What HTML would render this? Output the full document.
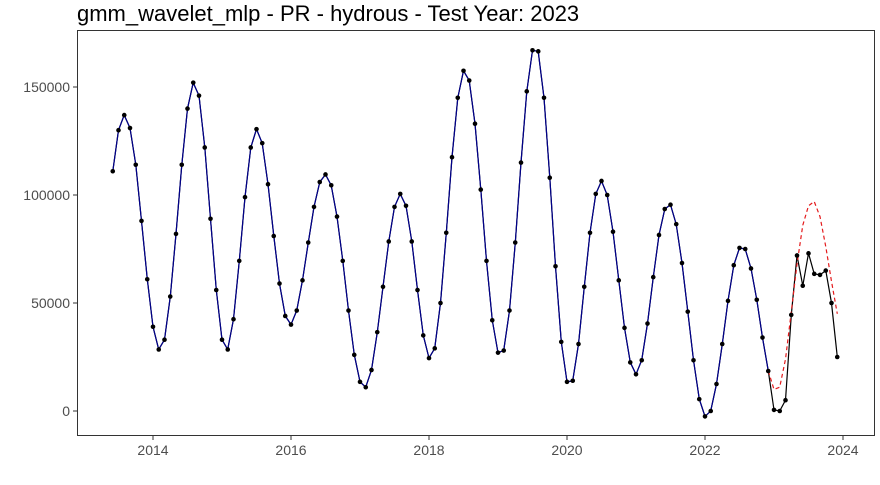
<!DOCTYPE html>
<html><head><meta charset="utf-8"><style>
body{margin:0;background:#fff;font-family:"Liberation Sans",sans-serif}
</style></head><body>
<svg id="c" width="880" height="480" xmlns="http://www.w3.org/2000/svg">
<text x="77" y="21" font-size="22" fill="#000" font-family="Liberation Sans, sans-serif">gmm_wavelet_mlp - PR - hydrous - Test Year: 2023</text>
<rect x="77.5" y="30.5" width="797" height="405" fill="none" stroke="#333" stroke-width="1"/>
<g id="g"></g>
</svg>
<script>
const startYear = 2013, startMonth = 6;
const actual = [111000,130000,137000,131000,114000,88000,61000,
39000,28500,33000,53000,82000,114000,140000,152000,146000,122000,89000,56000,
33000,28500,42500,69500,99000,122000,130500,124000,105000,81000,59000,44000,
40000,46500,60500,78000,94500,106000,109500,104500,90000,69500,46500,26000,
13500,11000,19000,36500,57500,78500,94500,100500,95000,78500,56000,35000,
24500,29000,50000,82500,117500,145000,157500,153000,133000,102500,69500,42000,
27000,28000,46500,78000,115000,148000,167000,166500,145000,108000,67000,32000,
13500,14000,31000,57500,82500,100500,106500,100000,83000,60500,38500,22500,
17000,23500,40500,62000,81500,93500,95500,86500,68500,46000,23500,5500,
-2500,0,12500,31000,51000,67500,75500,75000,66000,51500,34000,18500,
500,0,5000,44500,72000,58000,73000,63500,63000,65000,50000,25000];
const trainCount = 115;
const forecast = [18500,10000,11000,24000,46000,68000,86000,95000,97000,90000,76000,60000,45000];
const forecastStart = 114;
const yTicks = [0,50000,100000,150000];
const xTicks = [2014,2016,2018,2020,2022,2024];

const NS="http://www.w3.org/2000/svg";
const g=document.getElementById('g');
const xs=t=>153+(t-2014)*69;
const ys=v=>411-v*108/50000;
const tOf=i=>startYear+(startMonth-1+i)/12;
function mk(tag,attrs){const e=document.createElementNS(NS,tag);for(const k in attrs)e.setAttribute(k,attrs[k]);g.appendChild(e);return e;}
yTicks.forEach(v=>{
  const l=mk('line',{x1:73,x2:77,y1:ys(v),y2:ys(v),stroke:'#333'});
  
  
  const t=mk('text',{x:70,y:ys(v)+5,'text-anchor':'end','font-size':14,fill:'#4d4d4d'});
  t.textContent=v;
  
  
});
xTicks.forEach(v=>{
  const l=mk('line',{x1:xs(v),x2:xs(v),y1:436,y2:440,stroke:'#333'});
  
  
  const t=mk('text',{x:xs(v),y:455,'text-anchor':'middle','font-size':14,fill:'#4d4d4d'});
  t.textContent=v;
  
  
});
const pts=actual.map((v,i)=>xs(tOf(i)).toFixed(1)+','+ys(v).toFixed(1));
const al=mk('polyline',{points:pts.join(' '),fill:'none',stroke:'#000','stroke-width':1.2});


const tl=mk('polyline',{points:pts.slice(0,trainCount).join(' '),fill:'none',stroke:'#00008b','stroke-width':1.2});


const fp=forecast.map((v,i)=>xs(tOf(forecastStart+i)).toFixed(1)+','+ys(v).toFixed(1));
const fl=mk('polyline',{points:fp.join(' '),fill:'none',stroke:'#e41a1c','stroke-width':1.2,'stroke-dasharray':'4,3'});


actual.forEach((v,i)=>{
  const c=mk('circle',{cx:xs(tOf(i)),cy:ys(v),r:2.3,fill:'#000'});
  
  
});
</script>
</body></html>
